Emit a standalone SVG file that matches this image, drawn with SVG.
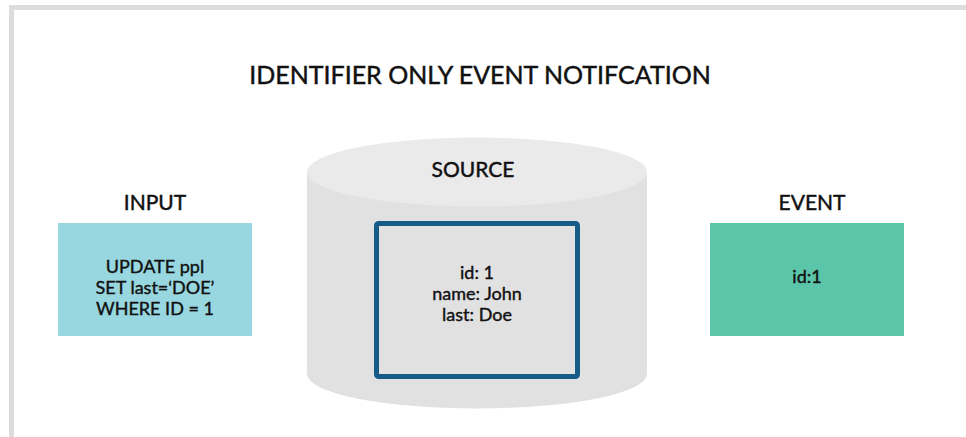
<svg xmlns="http://www.w3.org/2000/svg" width="966" height="437" viewBox="0 0 966 437">
  <style>
    text { font-family: Lato, "Open Sans", "Liberation Sans", sans-serif; fill: #111; stroke: #111; stroke-width: 0.45px; text-anchor: middle; font-weight: normal; }
    .title { font-size: 25px; }
    .head { font-size: 21px; }
    .body { font-size: 18px; stroke-width: 0.4px; }
  </style>
  <rect width="966" height="437" fill="#ffffff"/>
  <!-- frame: top and left edges only -->
  <path d="M11.5 437 V7.5 H966" fill="none" stroke="#dcdcdc" stroke-width="5"/>

  <text class="title" x="480" y="84">IDENTIFIER ONLY EVENT NOTIFCATION</text>

  <g id="input">
    <text class="head" x="155" y="210">INPUT</text>
    <rect x="58" y="223" width="194" height="113" fill="#98d7e0"/>
    <text class="body" x="155" y="273">UPDATE ppl</text>
    <text class="body" x="155" y="294">SET last=‘DOE’</text>
    <text class="body" x="155" y="315">WHERE ID = 1</text>
  </g>

  <g id="source">
    <path d="M307 172 V374 A170 34.5 0 0 0 647 374 V172 Z" fill="#e2e1e2"/>
    <ellipse cx="477" cy="172" rx="170" ry="34.5" fill="#ebeaeb"/>
    <text class="head" x="473" y="177">SOURCE</text>
    <rect x="376.5" y="223.5" width="201" height="153" rx="2" fill="#e2e1e2" stroke="#175c88" stroke-width="5"/>
    <text class="body" x="477" y="279">id: 1</text>
    <text class="body" x="477" y="300">name: John</text>
    <text class="body" x="477" y="321">last: Doe</text>
  </g>

  <g id="event">
    <text class="head" x="812" y="210">EVENT</text>
    <rect x="710" y="223" width="194" height="113" fill="#5bc5aa"/>
    <text class="body" x="807" y="283">id:1</text>
  </g>

  <g id="connectors"/>
</svg>
